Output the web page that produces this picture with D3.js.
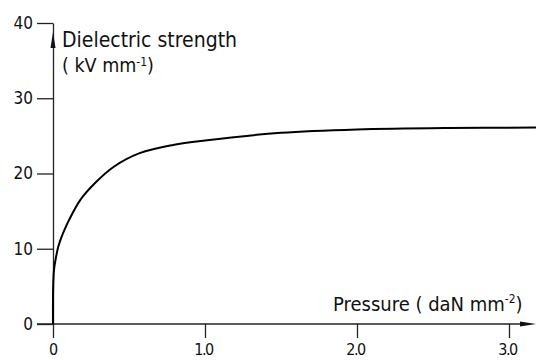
<!DOCTYPE html>
<html>
<head>
<meta charset="utf-8">
<script src="https://cdn.jsdelivr.net/npm/d3@7"></script>
<style>
  body { margin: 0; background: #fff; }
  text { font-family: "DejaVu Sans Condensed", "Liberation Sans Narrow", "DejaVu Sans", sans-serif; fill: #111; }
</style>
</head>
<body>
<svg id="chart" width="536" height="360"></svg>
<script>
// pressure (daN mm^-2) and dielectric strength (kV mm^-1)
const pressure = [0, 0.001, 0.0066, 0.02, 0.035, 0.057, 0.084, 0.105, 0.18, 0.28, 0.40, 0.57, 0.79, 1.0, 1.5, 2.0, 2.6, 3.18];
const strength = [0, 4.9, 7.2, 8.9, 10.3, 11.6, 12.9, 13.8, 16.5, 18.8, 20.9, 22.7, 23.8, 24.4, 25.4, 25.85, 26.05, 26.1];

const xTicks = [0, 1, 2, 3];
const xTickLabels = ["0", "1.0", "2.0", "3.0"];
const yTicks = [0, 10, 20, 30, 40];

const svg = d3.select("#chart");
const width = +svg.attr("width");

const x = d3.scaleLinear().domain([0, 3]).range([53, 509]);
const y = d3.scaleLinear().domain([0, 40]).range([324, 23]);

const axisColor = "#222";

// y axis: ticks to the left, domain line up to the 40 tick
const yAxis = svg.append("g")
  .attr("transform", `translate(${x(0)},0)`)
  .call(d3.axisLeft(y).tickValues(yTicks).tickSize(16).tickSizeOuter(0).tickPadding(4));

yAxis.selectAll("path, line").attr("stroke", axisColor).attr("stroke-width", 1.3);
yAxis.selectAll("text")
  .attr("font-size", 17)
  .attr("font-family", null)
  .attr("fill", "#111");

// x axis: ticks downward, no domain (the line is drawn separately)
const xAxis = svg.append("g")
  .attr("transform", `translate(0,${y(0)})`)
  .call(d3.axisBottom(x).tickValues(xTicks).tickFormat((d, i) => xTickLabels[i]).tickSize(14).tickPadding(6));

xAxis.select(".domain").remove();
xAxis.selectAll("line").attr("stroke", axisColor).attr("stroke-width", 1.3);
xAxis.selectAll("text")
  .attr("font-size", 16)
  .attr("font-family", null)
  .attr("letter-spacing", (d, i) => i > 0 ? -1.5 : 0)
  .attr("dx", (d, i) => i > 0 ? -2 : 0)
  .attr("fill", "#111");

// x axis line with arrow head
svg.append("line")
  .attr("x1", x(0) - 16).attr("x2", width - 14)
  .attr("y1", y(0)).attr("y2", y(0))
  .attr("stroke", axisColor).attr("stroke-width", 1.3);

svg.append("path")
  .attr("d", `M${width},${y(0)} L${width - 16},${y(0) - 2.5} L${width - 16},${y(0) + 2.5} Z`)
  .attr("fill", "#111");

// y axis arrow head, sitting just below the 40 tick
svg.append("path")
  .attr("d", `M${x(0)},${y(40) + 9} L${x(0) - 2.5},${y(40) + 25} L${x(0) + 2.5},${y(40) + 25} Z`)
  .attr("fill", "#111");

// curve
const points = pressure.map((p, i) => [p, strength[i]]);
const line = d3.line()
  .x(d => x(d[0]))
  .y(d => y(d[1]))
  .curve(d3.curveCatmullRom.alpha(0.5));

svg.append("path")
  .datum(points)
  .attr("d", line)
  .attr("fill", "none")
  .attr("stroke", "#000")
  .attr("stroke-width", 2);

// axis titles
svg.append("text")
  .attr("x", 62).attr("y", 47)
  .attr("font-size", 21)
  .text("Dielectric strength");

const yUnit = svg.append("text")
  .attr("x", 62).attr("y", 72)
  .attr("font-size", 19.5);
yUnit.append("tspan").text("( kV mm");
yUnit.append("tspan").attr("dy", -6).attr("font-size", 12).text("-1");
yUnit.append("tspan").attr("dy", 6).text(")");

const xUnit = svg.append("text")
  .attr("x", 333).attr("y", 311)
  .attr("font-size", 20);
xUnit.append("tspan").text("Pressure ( daN mm");
xUnit.append("tspan").attr("dy", -8).attr("font-size", 12).text("-2");
xUnit.append("tspan").attr("dy", 8).text(")");
</script>
</body>
</html>
